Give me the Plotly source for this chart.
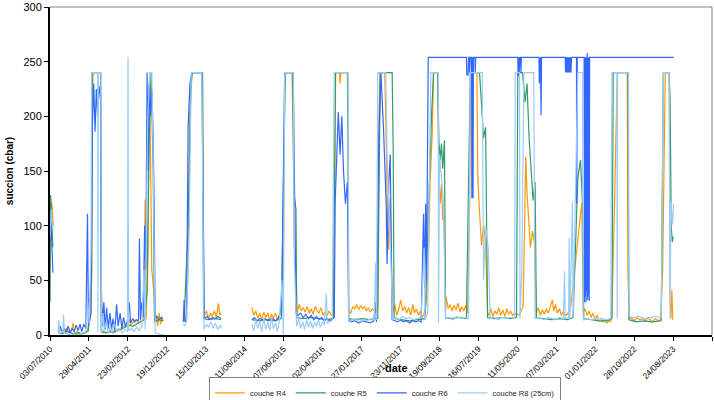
import plotly.graph_objects as go
from datetime import datetime

# ---------------- data ----------------
tick_labels = ["03/07/2010", "29/04/2011", "23/02/2012", "19/12/2012", "15/10/2013",
               "11/08/2014", "07/06/2015", "02/04/2016", "27/01/2017", "23/11/2017",
               "19/09/2018", "16/07/2019", "11/05/2020", "07/03/2021", "01/01/2022",
               "28/10/2022", "24/08/2023", "19/06/2024"]
y_ticks = [0, 50, 100, 150, 200, 250, 300]

series_names = ["couche R4", "couche R5", "couche R6", "couche R8 (25cm)"]

R4 = [("2010-07-03",110),("2010-07-12",122),("2010-07-20",118),("2010-07-28",100),("2010-08-10",None),
      ("2010-09-05",3),("2010-09-25",5),("2010-10-15",2),("2010-11-05",6),("2010-11-25",3),("2010-12-15",4),
      ("2010-12-28",11),("2011-01-08",2),("2011-02-01",3),("2011-03-01",1),("2011-03-25",2),("2011-04-15",4),
      ("2011-05-10",15),("2011-05-20",50),("2011-05-25",219),("2011-06-01",240),("2011-07-28",240),("2011-08-02",5),
      ("2011-08-20",3),("2011-09-15",2),("2011-10-10",4),("2011-11-05",3),("2011-12-01",5),("2011-12-25",6),
      ("2012-01-20",8),("2012-02-15",10),("2012-03-01",15),("2012-03-15",9),("2012-04-05",12),("2012-04-25",14),
      ("2012-05-15",11),("2012-06-05",13),("2012-06-25",14),("2012-07-05",124),("2012-07-12",15),("2012-07-25",60),
      ("2012-08-08",240),("2012-08-15",150),("2012-08-25",60),("2012-09-10",40),("2012-09-20",12),("2012-10-01",18),
      ("2012-10-10",8),("2012-10-20",20),("2012-11-01",10),("2012-11-10",17),("2012-11-20",12),("2012-12-01",None),
      ("2013-05-01",14),("2013-05-15",15),("2013-06-01",60),("2013-06-15",200),("2013-07-01",240),("2013-09-20",240),
      ("2013-09-28",60),("2013-10-05",18),("2013-10-20",22),("2013-11-05",15),("2013-11-20",20),("2013-12-05",17),
      ("2013-12-20",22),("2014-01-05",16),("2014-01-20",29),("2014-02-01",18),("2014-02-10",20),("2014-02-20",None),
      ("2014-10-05",25),("2014-10-20",18),("2014-11-05",22),("2014-11-20",15),("2014-12-05",20),("2014-12-20",14),
      ("2015-01-05",21),("2015-01-20",16),("2015-02-05",20),("2015-02-20",13),("2015-03-05",19),("2015-03-20",15),
      ("2015-04-05",20),("2015-04-20",14),("2015-05-05",18),("2015-05-20",20),("2015-06-05",60),("2015-06-15",240),
      ("2015-08-10",240),("2015-08-20",180),("2015-08-28",83),("2015-09-10",60),("2015-09-20",20),
      ("2015-10-05",28),("2015-10-20",22),("2015-11-05",25),("2015-11-20",21),("2015-12-05",26),("2015-12-20",20),
      ("2016-01-05",24),("2016-01-20",19),("2016-02-05",26),("2016-02-20",22),("2016-03-05",20),("2016-03-20",25),
      ("2016-04-05",18),("2016-04-20",21),("2016-05-05",17),("2016-05-20",22),("2016-06-10",18),("2016-06-25",20),
      ("2016-07-05",120),("2016-07-12",240),("2016-08-10",240),("2016-08-15",230),("2016-08-20",240),("2016-10-15",240),
      ("2016-10-20",22),("2016-11-05",20),("2016-11-20",26),("2016-12-05",24),("2016-12-20",28),("2017-01-05",23),
      ("2017-01-20",27),("2017-02-05",24),("2017-02-20",26),("2017-03-05",22),("2017-03-20",25),("2017-04-05",21),
      ("2017-04-20",24),("2017-05-05",22),("2017-05-20",20),("2017-06-01",25),("2017-06-10",200),("2017-06-20",240),
      ("2017-07-25",240),("2017-08-05",180),("2017-08-15",100),("2017-08-25",78),("2017-09-05",125),("2017-09-15",60),
      ("2017-09-25",20),("2017-10-10",28),("2017-10-25",18),("2017-11-10",24),("2017-11-25",32),("2017-12-10",22),
      ("2017-12-25",26),("2018-01-10",20),("2018-01-25",25),("2018-02-10",18),("2018-02-25",28),("2018-03-10",20),
      ("2018-03-25",24),("2018-04-10",18),("2018-04-25",22),("2018-05-10",16),("2018-05-25",20),("2018-06-10",30),
      ("2018-06-25",60),("2018-07-10",143),("2018-07-25",183),("2018-08-05",240),("2018-09-05",240),("2018-09-15",143),
      ("2018-09-25",120),("2018-10-05",138),("2018-10-15",105),("2018-10-25",110),("2018-11-05",22),("2018-11-10",35),
      ("2018-11-25",24),("2018-12-10",28),("2018-12-25",22),("2019-01-10",27),("2019-01-25",23),("2019-02-10",29),
      ("2019-02-25",21),("2019-03-10",26),("2019-03-25",22),("2019-04-10",27),("2019-04-25",20),("2019-05-10",120),
      ("2019-05-20",240),("2019-07-05",240),("2019-07-12",143),("2019-07-25",112),("2019-08-10",82),("2019-08-25",100),
      ("2019-09-10",85),("2019-09-25",20),("2019-10-05",18),("2019-10-20",24),("2019-11-05",17),("2019-11-20",22),
      ("2019-12-05",19),("2019-12-20",25),("2020-01-05",18),("2020-01-20",23),("2020-02-05",17),("2020-02-20",24),
      ("2020-03-05",19),("2020-03-20",22),("2020-04-05",18),("2020-04-20",20),("2020-05-05",19),("2020-05-25",18),
      ("2020-06-10",22),("2020-06-25",27),("2020-07-05",90),("2020-07-15",163),("2020-07-25",130),("2020-08-05",109),
      ("2020-08-20",80),("2020-09-05",95),("2020-09-20",85),("2020-10-05",20),("2020-10-20",25),("2020-11-05",18),
      ("2020-11-20",23),("2020-12-05",19),("2020-12-20",24),("2021-01-05",20),("2021-01-20",26),("2021-02-05",32),
      ("2021-02-15",22),("2021-03-01",28),("2021-03-15",20),("2021-04-01",24),("2021-04-15",18),("2021-05-01",22),
      ("2021-05-15",17),("2021-06-01",20),("2021-06-15",18),("2021-07-01",30),("2021-07-20",52),("2021-08-10",75),
      ("2021-09-01",100),("2021-09-20",121),("2021-10-01",20),("2021-10-15",24),("2021-11-01",18),("2021-11-15",22),
      ("2021-12-01",16),("2021-12-15",20),("2022-01-01",14),("2022-01-15",18),("2022-02-01",13),("2022-02-15",15),
      ("2022-03-01",12),("2022-03-15",14),("2022-04-01",11),("2022-04-15",13),("2022-05-01",12),("2022-05-10",20),
      ("2022-06-01",130),("2022-06-20",240),("2022-09-05",240),("2022-09-10",59),("2022-09-20",16),("2022-10-10",15),
      ("2022-11-01",13),("2022-11-20",16),("2022-12-10",14),("2023-01-01",15),("2023-01-20",13),("2023-02-10",16),
      ("2023-03-01",14),("2023-03-20",12),("2023-04-10",15),("2023-05-01",13),("2023-05-20",14),("2023-06-05",60),
      ("2023-06-25",240),("2023-07-25",240),("2023-08-01",40),("2023-08-08",15),("2023-08-15",41),("2023-08-22",14)]

R5 = [("2010-07-03",30),("2010-07-08",128),("2010-07-15",110),("2010-07-25",80),("2010-08-05",None),
      ("2010-09-05",2),("2010-10-05",1),("2010-11-05",3),("2010-12-05",2),("2011-01-05",1),("2011-02-05",2),
      ("2011-03-05",1),("2011-04-05",2),("2011-04-25",4),("2011-05-20",60),("2011-05-25",240),("2011-07-28",240),
      ("2011-08-02",3),("2011-09-01",2),("2011-10-01",3),("2011-11-01",2),("2011-12-01",4),("2012-01-01",5),
      ("2012-02-01",7),("2012-03-01",9),("2012-04-01",8),("2012-05-01",10),("2012-06-01",12),("2012-07-01",14),
      ("2012-07-20",40),("2012-08-05",180),("2012-08-20",240),("2012-09-05",150),("2012-09-15",12),("2012-10-15",14),
      ("2012-11-20",13),("2012-12-01",None),
      ("2013-05-01",13),("2013-06-01",100),("2013-06-20",220),("2013-07-01",240),("2013-09-20",240),("2013-09-28",15),
      ("2013-11-01",14),("2014-01-01",15),("2014-02-10",14),("2014-02-20",None),
      ("2014-10-05",14),("2014-12-01",13),("2015-02-01",14),("2015-04-01",13),("2015-05-20",15),("2015-06-10",200),
      ("2015-06-20",240),("2015-08-15",240),("2015-08-25",130),("2015-09-10",115),("2015-09-15",16),("2015-11-01",15),
      ("2016-01-01",16),("2016-03-01",15),("2016-05-01",14),("2016-06-25",15),("2016-07-10",240),("2016-10-10",240),
      ("2016-10-15",180),("2016-10-20",15),("2016-12-01",14),("2017-02-01",15),("2017-04-01",14),("2017-06-01",15),
      ("2017-06-20",240),("2017-09-20",240),("2017-09-28",170),("2017-10-05",15),("2017-12-01",14),("2018-02-01",13),
      ("2018-04-01",14),("2018-06-01",15),("2018-07-20",200),("2018-08-05",240),("2018-09-05",240),("2018-09-15",177),
      ("2018-09-25",160),("2018-10-05",175),("2018-10-15",152),("2018-10-28",178),("2018-11-05",16),("2018-12-15",15),
      ("2019-02-15",16),("2019-04-15",15),("2019-05-15",240),("2019-07-25",240),("2019-08-10",210),("2019-08-25",180),
      ("2019-09-10",190),("2019-09-25",16),("2019-11-15",15),("2020-01-15",16),("2020-03-15",15),("2020-05-05",16),
      ("2020-05-15",240),("2020-06-20",240),("2020-07-10",213),("2020-07-25",230),("2020-08-10",180),("2020-08-25",150),
      ("2020-09-10",123),("2020-09-25",140),("2020-10-05",16),("2020-12-01",15),("2021-02-01",14),("2021-04-01",15),
      ("2021-06-01",14),("2021-07-15",16),("2021-08-20",143),("2021-09-10",160),("2021-09-25",122),("2021-10-05",15),
      ("2021-12-01",14),("2022-02-01",13),("2022-04-01",13),("2022-05-10",15),("2022-05-20",240),("2022-09-10",240),
      ("2022-09-18",14),("2022-11-15",12),("2023-01-15",13),("2023-03-15",12),("2023-05-25",13),("2023-06-10",240),
      ("2023-07-25",240),("2023-08-01",216),("2023-08-10",100),("2023-08-18",85),("2023-08-25",90)]

R6 = [("2010-07-03",95),("2010-07-10",110),("2010-07-18",80),("2010-07-25",57),("2010-08-05",None),
      ("2010-09-05",3),("2010-09-20",8),("2010-10-05",2),("2010-10-20",6),("2010-11-05",3),("2010-11-20",8),
      ("2010-12-05",2),("2010-12-20",6),("2011-01-05",3),("2011-01-20",9),("2011-02-05",4),("2011-02-20",10),
      ("2011-03-05",3),("2011-03-20",10),("2011-04-05",6),("2011-04-18",111),("2011-04-25",8),("2011-05-15",20),
      ("2011-05-25",190),("2011-06-05",230),("2011-06-15",186),("2011-06-25",225),("2011-07-05",200),("2011-07-15",228),
      ("2011-07-28",215),("2011-08-03",41),("2011-08-12",8),("2011-08-22",30),("2011-09-01",5),("2011-09-12",25),
      ("2011-09-25",6),("2011-10-08",20),("2011-10-20",5),("2011-11-01",15),("2011-11-15",4),("2011-11-28",28),
      ("2011-12-10",8),("2011-12-25",20),("2012-01-08",6),("2012-01-20",16),("2012-02-05",8),("2012-02-20",13),
      ("2012-03-05",30),("2012-03-15",11),("2012-04-01",15),("2012-04-15",12),("2012-05-01",14),("2012-05-15",13),
      ("2012-05-22",88),("2012-05-30",14),("2012-06-10",30),("2012-06-20",16),("2012-07-01",100),("2012-07-10",60),
      ("2012-07-20",240),("2012-07-28",150),("2012-08-05",230),("2012-08-15",200),("2012-08-25",225),("2012-09-05",180),
      ("2012-09-12",122),("2012-09-20",15),("2012-10-05",17),("2012-10-20",14),("2012-11-05",16),("2012-11-20",15),
      ("2012-12-01",None),
      ("2013-04-25",12),("2013-05-01",32),("2013-05-08",12),("2013-05-20",14),("2013-06-01",190),("2013-06-15",230),
      ("2013-07-01",240),("2013-09-15",240),("2013-09-25",120),("2013-10-05",15),("2013-10-25",17),("2013-11-15",14),
      ("2013-12-05",16),("2013-12-25",15),("2014-01-15",17),("2014-02-10",15),("2014-02-20",None),
      ("2014-10-05",14),("2014-10-25",16),("2014-11-15",13),("2014-12-05",15),("2014-12-25",14),("2015-01-15",15),
      ("2015-02-05",13),("2015-02-25",14),("2015-03-15",15),("2015-04-05",13),("2015-04-25",15),("2015-05-15",22),
      ("2015-05-25",40),("2015-06-05",150),("2015-06-15",240),("2015-08-20",240),("2015-08-28",150),("2015-09-10",20),
      ("2015-09-25",18),("2015-10-15",20),("2015-11-05",16),("2015-11-25",19),("2015-12-15",15),("2016-01-05",18),
      ("2016-01-25",14),("2016-02-15",17),("2016-03-05",14),("2016-03-25",16),("2016-04-15",13),("2016-05-05",15),
      ("2016-05-25",13),("2016-06-15",15),("2016-07-01",16),("2016-07-08",122),("2016-07-20",170),("2016-08-01",204),
      ("2016-08-15",165),("2016-08-28",200),("2016-09-10",150),("2016-09-25",120),("2016-10-10",140),("2016-10-20",14),
      ("2016-11-10",12),("2016-12-05",13),("2017-01-05",11),("2017-02-05",13),("2017-03-05",12),("2017-04-05",11),
      ("2017-05-01",13),("2017-05-15",30),("2017-05-22",12),("2017-06-10",180),("2017-06-25",240),("2017-07-15",190),
      ("2017-08-05",120),("2017-08-12",65),("2017-08-25",140),("2017-09-05",165),("2017-09-20",14),("2017-10-10",13),
      ("2017-11-01",12),("2017-11-25",14),("2017-12-15",12),("2018-01-10",13),("2018-02-01",11),("2018-02-25",13),
      ("2018-03-20",12),("2018-04-10",13),("2018-05-01",12),("2018-05-20",111),("2018-05-28",43),("2018-06-05",120),
      ("2018-06-12",50),("2018-06-20",180),("2018-06-25",254),
      ("2019-04-15",254),("2019-04-18",238),("2019-04-28",238),("2019-05-01",254),("2019-05-08",254),("2019-05-10",240),
      ("2019-05-15",254),("2019-05-25",254),("2019-05-27",125),("2019-06-02",254),("2019-06-05",125),("2019-06-08",254),
      ("2019-06-20",254),("2019-06-22",240),("2019-06-26",254),
      ("2020-05-15",254),("2020-05-17",237),("2020-05-22",254),("2020-05-25",237),("2020-05-30",254),("2020-06-05",254),
      ("2020-06-08",240),("2020-06-12",254),
      ("2020-10-25",254),("2020-10-28",230),("2020-11-05",254),("2020-11-10",201),("2020-11-14",254),
      ("2021-05-15",254),("2021-05-18",240),("2021-05-21",254),("2021-05-24",240),("2021-05-27",254),("2021-05-30",240),
      ("2021-06-02",254),("2021-06-05",240),("2021-06-08",254),("2021-06-11",240),("2021-06-14",254),("2021-06-17",240),
      ("2021-06-20",254),("2021-06-23",240),("2021-06-26",254),("2021-06-29",240),("2021-07-02",254),
      ("2021-08-10",254),("2021-08-12",120),("2021-08-16",254),
      ("2021-10-08",254),("2021-10-11",30),("2021-10-14",254),("2021-10-17",35),("2021-10-20",254),("2021-10-23",30),
      ("2021-10-26",254),("2021-10-29",40),("2021-11-01",258),("2021-11-04",32),("2021-11-07",254),("2021-11-10",36),
      ("2021-11-13",254),("2021-11-16",31),("2021-11-19",254),
      ("2023-08-30",254)]

R8 = [("2010-07-03",90),("2010-07-12",115),("2010-07-22",100),("2010-07-28",95),("2010-08-05",None),
      ("2010-09-03",2),("2010-09-10",14),("2010-09-15",1),("2010-10-01",3),("2010-10-10",2),("2010-10-15",19),
      ("2010-10-22",2),("2010-11-10",1),("2010-12-10",0),("2011-01-10",1),("2011-02-10",0),("2011-03-10",2),
      ("2011-04-05",3),("2011-04-20",30),("2011-05-01",10),("2011-05-15",80),("2011-05-20",240),("2011-07-05",240),
      ("2011-07-07",3),("2011-07-10",240),("2011-07-30",240),("2011-08-03",2),("2011-08-15",20),("2011-08-25",3),
      ("2011-09-10",12),("2011-09-25",1),("2011-10-10",8),("2011-10-25",2),("2011-11-10",10),("2011-12-01",3),
      ("2011-12-20",6),("2012-01-10",2),("2012-02-01",5),("2012-02-20",3),("2012-02-24",254),("2012-02-28",4),
      ("2012-03-20",6),("2012-04-10",3),("2012-05-01",7),("2012-05-20",4),("2012-06-10",8),("2012-06-25",60),
      ("2012-07-05",5),("2012-07-25",200),("2012-08-10",240),("2012-08-25",240),("2012-09-05",160),("2012-09-12",100),
      ("2012-09-20",2),("2012-10-15",1),("2012-11-10",0),("2012-11-25",1),("2012-12-01",None),
      ("2013-04-25",10),("2013-05-05",8),("2013-05-20",12),("2013-06-10",100),("2013-06-25",240),("2013-09-15",240),
      ("2013-09-22",125),("2013-10-01",5),("2013-10-20",10),("2013-11-05",7),("2013-11-25",12),("2013-12-10",6),
      ("2013-12-28",11),("2014-01-15",5),("2014-02-05",9),("2014-02-15",6),("2014-02-20",None),
      ("2014-10-05",10),("2014-10-20",4),("2014-11-05",14),("2014-11-20",6),("2014-12-05",12),("2014-12-20",3),
      ("2015-01-05",15),("2015-01-20",5),("2015-02-05",12),("2015-02-20",4),("2015-03-05",16),("2015-03-20",6),
      ("2015-04-05",11),("2015-04-20",3),("2015-05-05",13),("2015-05-25",50),("2015-06-05",0),("2015-06-15",240),
      ("2015-08-20",240),("2015-08-28",70),("2015-09-05",40),("2015-09-15",8),("2015-10-01",15),("2015-10-15",6),
      ("2015-11-01",12),("2015-11-15",5),("2015-12-01",14),("2015-12-15",7),("2016-01-01",13),("2016-01-15",6),
      ("2016-02-01",12),("2016-02-15",8),("2016-03-01",14),("2016-03-15",7),("2016-04-01",12),("2016-04-15",9),
      ("2016-05-01",38),("2016-05-08",11),("2016-05-25",12),("2016-06-15",13),("2016-07-01",240),("2016-10-15",240),
      ("2016-10-20",12),("2016-11-10",13),("2016-12-10",15),("2017-01-10",12),("2017-02-10",14),("2017-03-10",13),
      ("2017-04-10",15),("2017-05-05",14),("2017-05-15",66),("2017-05-22",14),("2017-06-01",240),("2017-08-01",240),
      ("2017-08-15",150),("2017-09-01",100),("2017-09-15",50),("2017-09-25",14),("2017-10-20",16),("2017-11-15",14),
      ("2017-12-10",17),("2018-01-05",15),("2018-02-01",16),("2018-03-01",14),("2018-04-01",15),("2018-05-01",16),
      ("2018-05-25",80),("2018-06-01",14),("2018-06-20",20),("2018-07-15",240),("2018-09-10",240),("2018-09-12",11),
      ("2018-09-20",165),("2018-10-05",140),("2018-10-20",122),("2018-11-05",15),("2018-12-01",16),("2019-01-01",14),
      ("2019-02-01",17),("2019-03-01",15),("2019-04-01",16),("2019-05-01",15),("2019-05-15",240),("2019-08-15",240),
      ("2019-08-25",50),("2019-09-10",100),("2019-09-30",80),("2019-10-15",15),("2019-11-15",16),("2019-12-15",14),
      ("2020-01-15",16),("2020-02-15",15),("2020-03-15",16),("2020-04-20",15),("2020-04-25",240),("2020-05-28",240),
      ("2020-06-01",15),("2020-06-15",60),("2020-07-01",240),("2020-09-15",240),("2020-09-25",15),("2020-11-01",16),
      ("2020-12-01",14),("2021-01-01",16),("2021-02-01",15),("2021-03-01",14),("2021-04-01",16),("2021-05-01",15),
      ("2021-05-10",58),("2021-05-15",15),("2021-06-10",16),("2021-06-15",89),("2021-06-20",15),("2021-07-10",122),
      ("2021-07-15",16),("2021-08-20",240),("2021-09-25",240),("2021-10-01",14),("2021-11-01",15),("2021-12-01",14),
      ("2022-01-01",15),("2022-02-01",14),("2022-03-01",15),("2022-04-01",14),("2022-05-01",15),("2022-05-10",240),
      ("2022-06-18",240),("2022-06-20",15),("2022-06-23",240),("2022-09-15",240),("2022-09-18",17),("2022-10-20",16),
      ("2022-12-01",17),("2023-01-15",15),("2023-03-01",16),("2023-04-15",17),("2023-05-25",16),("2023-06-10",240),
      ("2023-07-25",240),("2023-08-01",15),("2023-08-08",122),("2023-08-20",101),("2023-08-28",120)]

colors = ["#FF9900", "#339966", "#3366FF", "#99CCFF"]

# ---------------- figure ----------------
FONT = "Liberation Sans, Arial, sans-serif"
fig = go.Figure()
for name, data, col in zip(series_names, [R4, R5, R6, R8], colors):
    fig.add_trace(go.Scatter(
        x=[d for d, v in data], y=[v for d, v in data], name=name, mode="lines",
        line=dict(color=col, width=1.2), connectgaps=False))

tick_dates = [datetime.strptime(t, "%d/%m/%Y") for t in tick_labels]

fig.update_layout(
    width=714, height=400,
    margin=dict(l=50, r=2, t=7, b=65, autoexpand=False),
    paper_bgcolor="white", plot_bgcolor="white",
    font=dict(family=FONT, color="#000000"),
    showlegend=True,
    legend=dict(orientation="h", x=0.506, xanchor="center", y=-0.129, yanchor="top",
                font=dict(size=7.5, color="#222222"), bordercolor="#808080", borderwidth=1,
                bgcolor="white", itemwidth=30, tracegroupgap=0),
    xaxis=dict(type="date", range=[tick_dates[0], tick_dates[-1]],
               tickmode="array", tickvals=tick_dates, ticktext=tick_labels,
               tickangle=-45, tickfont=dict(size=8.5, family=FONT, color="#000000"),
               ticks="outside", ticklen=4, tickcolor="#000000",
               showline=True, linecolor="#000000", linewidth=1.5,
               showgrid=False, zeroline=False),
    yaxis=dict(range=[0, 300], tickmode="array", tickvals=y_ticks,
               ticktext=[str(v) for v in y_ticks], ticklabeloverflow="allow",
               tickfont=dict(size=11, family=FONT, color="#000000"),
               ticks="outside", ticklen=4, tickcolor="#000000",
               showline=True, linecolor="#000000", linewidth=2,
               showgrid=False, zeroline=False,
               title=dict(text="<b>succion (cbar)</b>", font=dict(size=10, family=FONT), standoff=8)),
    shapes=[
        dict(type="line", xref="paper", yref="paper", x0=0, x1=1, y0=1, y1=1,
             line=dict(color="#808080", width=1)),
        dict(type="line", xref="paper", yref="paper", x0=1, x1=1, y0=0, y1=1,
             line=dict(color="#808080", width=1)),
    ],
    annotations=[dict(text="<b>date</b>", xref="paper", yref="paper", x=0.523, y=-0.1,
                      xanchor="center", yanchor="middle", showarrow=False,
                      font=dict(size=11, family=FONT, color="#000000"))],
)

fig.write_html("out.html")
